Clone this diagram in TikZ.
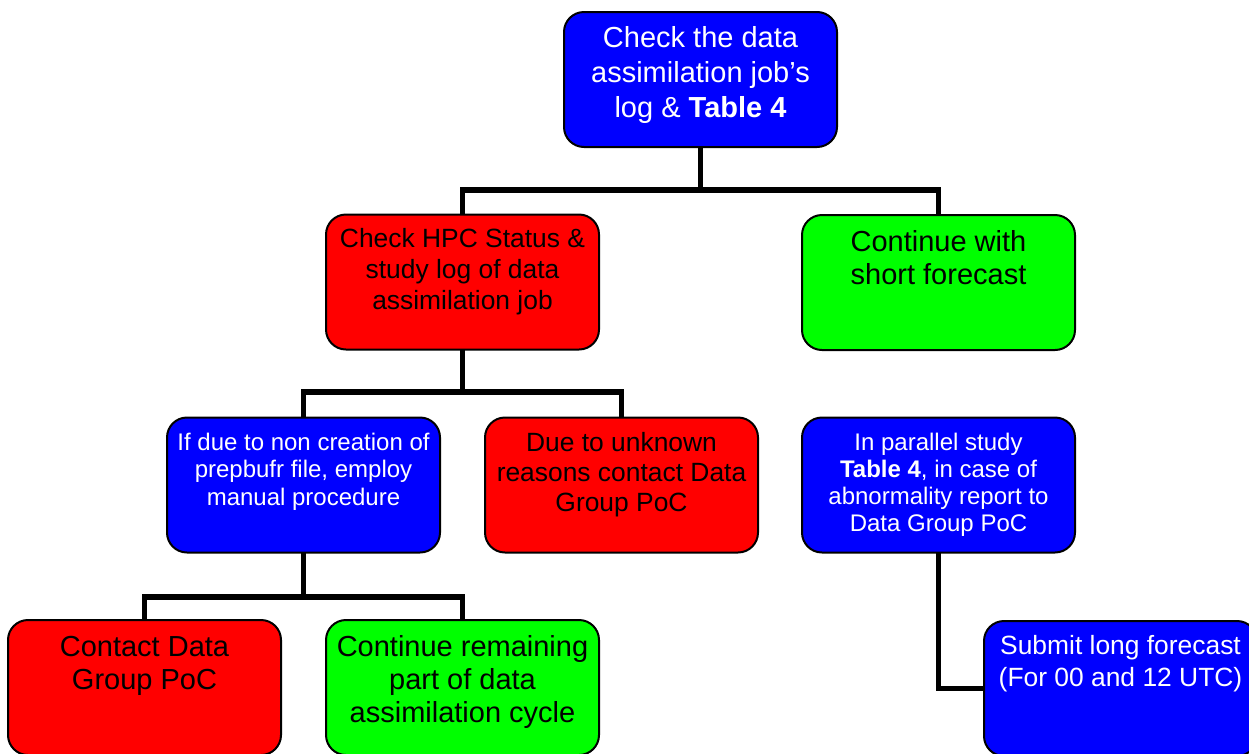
\documentclass[tikz,border=0pt]{standalone}
\usepackage{fontspec}
\setmainfont{Liberation Sans}
\definecolor{bblue}{HTML}{0000FF}
\definecolor{rred}{HTML}{FF0000}
\definecolor{ggreen}{HTML}{00FF00}
\begin{document}
\begin{tikzpicture}[x=1pt,y=-1pt,
  box/.style={draw=black,line width=2pt,rounded corners=20pt,minimum width=273pt,minimum height=135pt,inner sep=0pt,outer sep=0pt},
  bluebox/.style={box,fill=bblue},
  redbox/.style={box,fill=rred},
  greenbox/.style={box,fill=ggreen},
  txt/.style={anchor=north,align=center,inner sep=0pt},
  wtxt/.style={txt,text=white},
  ktxt/.style={txt,text=black},
  conn/.style={draw=black,line width=5.5pt,line cap=butt,line join=miter}]
\useasboundingbox (0,0) rectangle (1249,753);
\clip (0,0) rectangle (1249,753);
\coordinate (j1) at (700.5,190);
\coordinate (j2) at (462.5,392);
\coordinate (j3) at (303.5,597);
% boxes
\node[bluebox]  (b1) at (700.5,79.5) {};
\node[redbox]   (b2) at (462.5,282) {};
\node[greenbox] (b3) at (938.5,282.5) {};
\node[bluebox]  (b4) at (303.5,485) {};
\node[redbox]   (b5) at (621.5,485) {};
\node[bluebox]  (b6) at (938.5,485) {};
\node[redbox]   (b7) at (144.5,687.5) {};
\node[greenbox] (b8) at (462.5,687.5) {};
\node[bluebox]  (b9) at (1120.5,688.5) {};
% connectors
\draw[conn] (b1.south) -- (j1);
\draw[conn] (b2.north) |- (j1) -| (b3.north);
\draw[conn] (b2.south) -- (j2);
\draw[conn] (b4.north) |- (j2) -| (b5.north);
\draw[conn] (b4.south) -- (j3);
\draw[conn] (b7.north) |- (j3) -| (b8.north);
\draw[conn] (b6.south) |- (b9.west);
% texts
\node[wtxt,font=\fontsize{29}{35}\selectfont] (t1) at ([yshift=-14.5pt]b1.north) {Check the data\\assimilation job’s\\log \& {\bfseries Table 4}};
\node[ktxt,font=\fontsize{26.4}{31}\selectfont] (t2) at ([yshift=-13.5pt]b2.north) {Check HPC Status \&\\study log of data\\assimilation job};
\node[ktxt,font=\fontsize{29}{33}\selectfont] (t3) at ([yshift=-15pt]b3.north) {Continue with\\short forecast};
\node[wtxt,font=\fontsize{24}{27.5}\selectfont] (t4) at ([yshift=-15pt]b4.north) {If due to non creation of\\prepbufr file, employ\\manual procedure};
\node[ktxt,font=\fontsize{26.4}{30}\selectfont] (t5) at ([yshift=-15pt]b5.north) {Due to unknown\\reasons contact Data\\Group PoC};
\node[wtxt,font=\fontsize{24}{27}\selectfont] (t6) at ([yshift=-15pt]b6.north) {In parallel study\\{\bfseries Table 4}, in case of\\abnormality report to\\Data Group PoC};
\node[ktxt,font=\fontsize{29}{33}\selectfont] (t7) at ([yshift=-16pt]b7.north) {Contact Data\\Group PoC};
\node[ktxt,font=\fontsize{29}{33}\selectfont] (t8) at ([yshift=-15pt]b8.north) {Continue remaining\\part of data\\assimilation cycle};
\node[wtxt,font=\fontsize{26.4}{32}\selectfont] (t9) at ([yshift=-14pt]b9.north) {Submit long forecast\\(For 00 and 12 UTC)};
\end{tikzpicture}
\end{document}
